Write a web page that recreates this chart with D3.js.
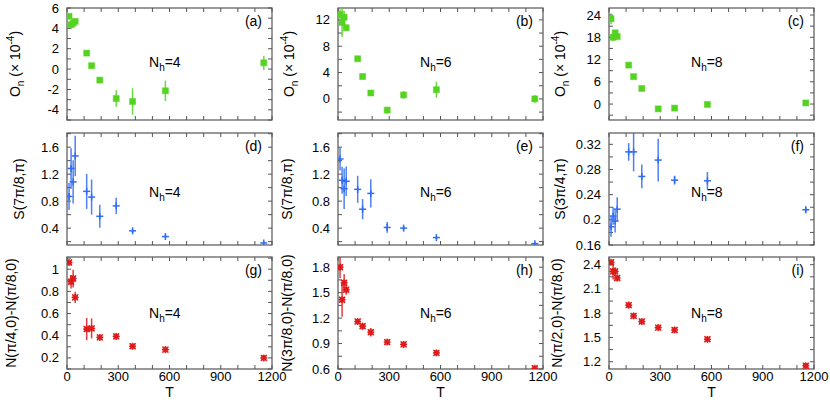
<!DOCTYPE html>
<html>
<head>
  <meta charset="utf-8">
  <title>O_n, S and N vs T</title>
  <script src="https://d3js.org/d3.v7.min.js"></script>
  <style>
    body { margin: 0; background: #fff; }
    text { font-family: "Liberation Sans", Arial, sans-serif; fill: #000; }
  </style>
</head>
<body>
<div id="vis"></div>
<script>
  // temperatures (same for every panel)
  var T = [12, 24, 36, 48, 115.2, 144, 192, 288, 384, 576, 1152];

  // O_n (x 1e-4)
  var onNh4 = [5.18, 4.36, 4.5, 4.69, 1.57, 0.33, -1.08, -2.89, -3.18, -2.13, 0.62];
  var onNh4Err = [0.25, 0.45, 0.3, 0.2, 0.15, 0.15, 0.3, 0.8, 1.3, 1.0, 0.7];
  var onNh6 = [12.8, 11.6, 12.4, 10.8, 6.1, 3.4, 0.9, -1.7, 0.6, 1.4, 0.0];
  var onNh6Err = [0.8, 2.2, 1.0, 0.5, 0.3, 0.3, 0.4, 0.5, 0.6, 1.2, 0.6];
  var onNh8 = [23.0, 18.0, 19.2, 18.2, 10.5, 7.4, 4.2, -1.3, -1.1, -0.1, 0.3];
  var onNh8Err = [1.5, 1.0, 0.6, 0.4, 0.3, 0.3, 0.3, 0.3, 0.3, 0.3, 0.3];

  // structure factor S
  var sNh4 = [0.87, 1.285, 1.085, 1.47, 0.945, 0.86, 0.575, 0.73, 0.36, 0.275, 0.18];
  var sNh4Err = [0.2, 0.3, 0.32, 0.3, 0.26, 0.26, 0.17, 0.12, 0.03, 0.03, 0.02];
  var sNh6 = [1.425, 1.11, 0.985, 1.095, 0.975, 0.68, 0.915, 0.41, 0.4, 0.26, 0.17];
  var sNh6Err = [0.17, 0.2, 0.3, 0.22, 0.2, 0.15, 0.21, 0.08, 0.03, 0.02, 0.02];
  var sNh8 = [0.189, 0.206, 0.198, 0.217, 0.308, 0.308, 0.269, 0.295, 0.263, 0.262, 0.216];
  var sNh8Err = [0.016, 0.014, 0.018, 0.019, 0.014, 0.031, 0.019, 0.034, 0.007, 0.014, 0.004];

  // N(q1,0)-N(pi/8,0)
  var nNh4 = [1.06, 0.887, 0.916, 0.746, 0.46, 0.466, 0.385, 0.394, 0.305, 0.275, 0.2];
  var nNh4Err = [0.02, 0.06, 0.08, 0.05, 0.1, 0.09, 0.02, 0.025, 0.015, 0.015, 0.015];
  var nNh6 = [1.8, 1.417, 1.616, 1.534, 1.159, 1.104, 1.034, 0.917, 0.89, 0.79, 0.608];
  var nNh6Err = [0.13, 0.2, 0.1, 0.06, 0.03, 0.04, 0.05, 0.02, 0.02, 0.02, 0.01];
  var nNh8 = [2.43, 2.317, 2.317, 2.235, 1.9, 1.767, 1.697, 1.622, 1.593, 1.477, 1.15];
  var nNh8Err = [0.02, 0.1, 0.05, 0.04, 0.04, 0.03, 0.02, 0.02, 0.02, 0.02, 0.02];

  var xTicks = [0, 300, 600, 900, 1200];
  var nhLabels = ['4', '6', '8'];
  var tags = ['a', 'b', 'c', 'd', 'e', 'f', 'g', 'h', 'i'];

  var width = 830, height = 415;
  var colX = [67, 338, 609];
  var rowY = [8, 133, 257];
  var pw = 205, ph = 112;

  var green = '#55d322', blue = '#2f6cf2', red = '#dd1a1a';
  var frameColor = '#555';

  // y labels as [text, sub/sup] runs
  var labOn = [['O', ''], ['n', 'sub'], [' (\u00d7 10', ''], ['-4', 'sup'], [')', '']];
  var labS1 = [['S(7\u03c0/8,\u03c0)', '']];
  var labS2 = [['S(3\u03c0/4,\u03c0)', '']];
  var labN4 = [['N(\u03c0/4,0)-N(\u03c0/8,0)', '']];
  var labN6 = [['N(3\u03c0/8,0)-N(\u03c0/8,0)', '']];
  var labN8 = [['N(\u03c0/2,0)-N(\u03c0/8,0)', '']];

  var fmt = function (v) { return String(+v.toFixed(2)); };

  var panels = [
    { vals: onNh4, errs: onNh4Err, dom: [-5, 6], major: d3.range(-4, 6.1, 2), minor: d3.range(-5, 6.1, 1), lab: labOn, labOff: 52, mark: 'sq' },
    { vals: onNh6, errs: onNh6Err, dom: [-3.2, 13.8], major: d3.range(0, 12.1, 4), minor: d3.range(-2, 13.9, 2), lab: labOn, labOff: 49, mark: 'sq' },
    { vals: onNh8, errs: onNh8Err, dom: [-4.3, 25.9], major: d3.range(0, 24.1, 6), minor: d3.range(-3, 25.9, 3), lab: labOn, labOff: 49, mark: 'sq' },
    { vals: sNh4, errs: sNh4Err, dom: [0.15, 1.81], major: [0.4, 0.8, 1.2, 1.6], minor: d3.range(0.2, 1.81, 0.2), lab: labS1, labOff: 48, mark: 'plus' },
    { vals: sNh6, errs: sNh6Err, dom: [0.15, 1.81], major: [0.4, 0.8, 1.2, 1.6], minor: d3.range(0.2, 1.81, 0.2), lab: labS1, labOff: 51, mark: 'plus' },
    { vals: sNh8, errs: sNh8Err, dom: [0.16, 0.338], major: [0.16, 0.2, 0.24, 0.28, 0.32], minor: d3.range(0.16, 0.339, 0.02), lab: labS2, labOff: 49, mark: 'plus' },
    { vals: nNh4, errs: nNh4Err, dom: [0.1, 1.11], major: [0.2, 0.4, 0.6, 0.8, 1], minor: d3.range(0.1, 1.11, 0.1), lab: labN4, labOff: 56, mark: 'star' },
    { vals: nNh6, errs: nNh6Err, dom: [0.6, 1.92], major: [0.6, 0.9, 1.2, 1.5, 1.8], minor: d3.range(0.6, 1.92, 0.15), lab: labN6, labOff: 51, mark: 'star' },
    { vals: nNh8, errs: nNh8Err, dom: [1.11, 2.495], major: [1.2, 1.5, 1.8, 2.1, 2.4], minor: d3.range(1.2, 2.5, 0.15), lab: labN8, labOff: 52, mark: 'star' }
  ];

  var svg = d3.select('#vis').append('svg')
    .attr('width', width)
    .attr('height', height);

  var x = d3.scaleLinear().domain([0, 1200]).range([0, pw]);

  panels.forEach(function (p, i) {
    var row = Math.floor(i / 3), col = i % 3;
    var g = svg.append('g')
      .attr('transform', 'translate(' + colX[col] + ',' + rowY[row] + ')');
    var y = d3.scaleLinear().domain(p.dom).range([ph, 0]);
    var color = row === 0 ? green : (row === 1 ? blue : red);

    // clip for data
    var cid = 'clip' + i;
    g.append('clipPath').attr('id', cid)
      .append('rect').attr('width', pw).attr('height', ph);

    // x ticks every 100, on bottom and top, inward
    var xt = d3.range(0, 1201, 100);
    g.selectAll('.xtb').data(xt).enter().append('line')
      .attr('x1', d => x(d)).attr('x2', d => x(d))
      .attr('y1', ph).attr('y2', ph - 4)
      .attr('stroke', frameColor).attr('stroke-width', 1);
    g.selectAll('.xtt').data(xt).enter().append('line')
      .attr('x1', d => x(d)).attr('x2', d => x(d))
      .attr('y1', 0).attr('y2', 4)
      .attr('stroke', frameColor).attr('stroke-width', 1);

    // y ticks, both sides
    g.selectAll('.ytl').data(p.minor).enter().append('line')
      .attr('x1', 0).attr('x2', 4)
      .attr('y1', d => y(d)).attr('y2', d => y(d))
      .attr('stroke', frameColor).attr('stroke-width', 1);
    g.selectAll('.ytr').data(p.minor).enter().append('line')
      .attr('x1', pw).attr('x2', pw - 4)
      .attr('y1', d => y(d)).attr('y2', d => y(d))
      .attr('stroke', frameColor).attr('stroke-width', 1);

    // frame
    g.append('rect')
      .attr('width', pw).attr('height', ph)
      .attr('fill', 'none')
      .attr('stroke', frameColor).attr('stroke-width', 1.2);

    // y tick labels
    g.selectAll('.ylab').data(p.major).enter().append('text')
      .attr('x', -8).attr('y', d => y(d))
      .attr('dy', '0.35em')
      .attr('text-anchor', 'end')
      .style('font-size', '13px')
      .text(fmt);

    // x tick labels, bottom row only
    if (row === 2) {
      g.selectAll('.xlab').data(xTicks).enter().append('text')
        .attr('x', d => x(d)).attr('y', ph + 11.5)
        .attr('text-anchor', 'middle')
        .style('font-size', '13px')
        .text(d => d);
      g.append('text')
        .attr('x', pw / 2).attr('y', ph + 28)
        .attr('text-anchor', 'middle')
        .style('font-size', '14px')
        .text('T');
    }

    // y label
    var yl = g.append('text')
      .attr('transform', 'translate(' + (-p.labOff) + ',' + (ph / 2) + ') rotate(-90)')
      .attr('text-anchor', 'middle')
      .attr('dy', '0.35em')
      .style('font-size', '14px');
    p.lab.forEach(function (run) {
      var t = yl.append('tspan').text(run[0]);
      if (run[1] === 'sub') t.attr('dy', 4).style('font-size', '10px');
      else if (run[1] === 'sup') t.attr('dy', -6).style('font-size', '10px');
    });
    // reset baseline shifts after sub/sup
    yl.selectAll('tspan').each(function (d, k) {
      var prev = p.lab[k - 1];
      if (prev && prev[1] === 'sub' && !p.lab[k][1]) d3.select(this).attr('dy', -4);
      if (prev && prev[1] === 'sup' && !p.lab[k][1]) d3.select(this).attr('dy', 6);
    });

    // panel tag
    g.append('text')
      .attr('x', pw - 10).attr('y', 18)
      .attr('text-anchor', 'end')
      .style('font-size', '14px')
      .text('(' + tags[i] + ')');

    // N_h label
    var nh = g.append('text')
      .attr('x', 82).attr('y', row === 0 ? 59 : (row === 1 ? 64 : 61))
      .style('font-size', '14px');
    nh.append('tspan').text('N');
    nh.append('tspan').attr('dy', 4).style('font-size', '10px').text('h');
    nh.append('tspan').attr('dy', -4).text('=' + nhLabels[col]);

    // data
    var pts = T.map(function (t, k) { return { t: t, v: p.vals[k], e: p.errs[k] }; });
    var dg = g.append('g').attr('clip-path', 'url(#' + cid + ')');

    dg.selectAll('.err').data(pts).enter().append('line')
      .attr('x1', d => x(d.t)).attr('x2', d => x(d.t))
      .attr('y1', d => y(d.v - d.e)).attr('y2', d => y(d.v + d.e))
      .attr('stroke', color).attr('stroke-width', 1.5)
      .attr('opacity', 0.85);

    if (p.mark === 'sq') {
      dg.selectAll('.m').data(pts).enter().append('rect')
        .attr('x', d => x(d.t) - 3).attr('y', d => y(d.v) - 3)
        .attr('width', 6).attr('height', 6)
        .attr('fill', color)
        .attr('stroke', color).attr('stroke-opacity', 0.5).attr('stroke-width', 1);
    } else if (p.mark === 'plus') {
      dg.selectAll('.m').data(pts).enter().append('line')
        .attr('x1', d => x(d.t) - 3.5).attr('x2', d => x(d.t) + 3.5)
        .attr('y1', d => y(d.v)).attr('y2', d => y(d.v))
        .attr('stroke', color).attr('stroke-width', 1.5);
      dg.selectAll('.m2').data(pts).enter().append('line')
        .attr('x1', d => x(d.t)).attr('x2', d => x(d.t))
        .attr('y1', d => y(d.v) - 3.5).attr('y2', d => y(d.v) + 3.5)
        .attr('stroke', color).attr('stroke-width', 1.5);
    } else {
      var star = dg.selectAll('.m').data(pts).enter().append('g')
        .attr('transform', d => 'translate(' + x(d.t) + ',' + y(d.v) + ')');
      star.append('rect')
        .attr('x', -2.8).attr('y', -2.8).attr('width', 5.6).attr('height', 5.6)
        .attr('fill', color).attr('opacity', 0.75);
      [[-3.5, 0, 3.5, 0], [0, -3.5, 0, 3.5], [-3, -3, 3, 3], [-3, 3, 3, -3]].forEach(function (s) {
        star.append('line')
          .attr('x1', s[0]).attr('y1', s[1]).attr('x2', s[2]).attr('y2', s[3])
          .attr('stroke', color).attr('stroke-width', 1.3);
      });
    }
  });
</script>
</body>
</html>
